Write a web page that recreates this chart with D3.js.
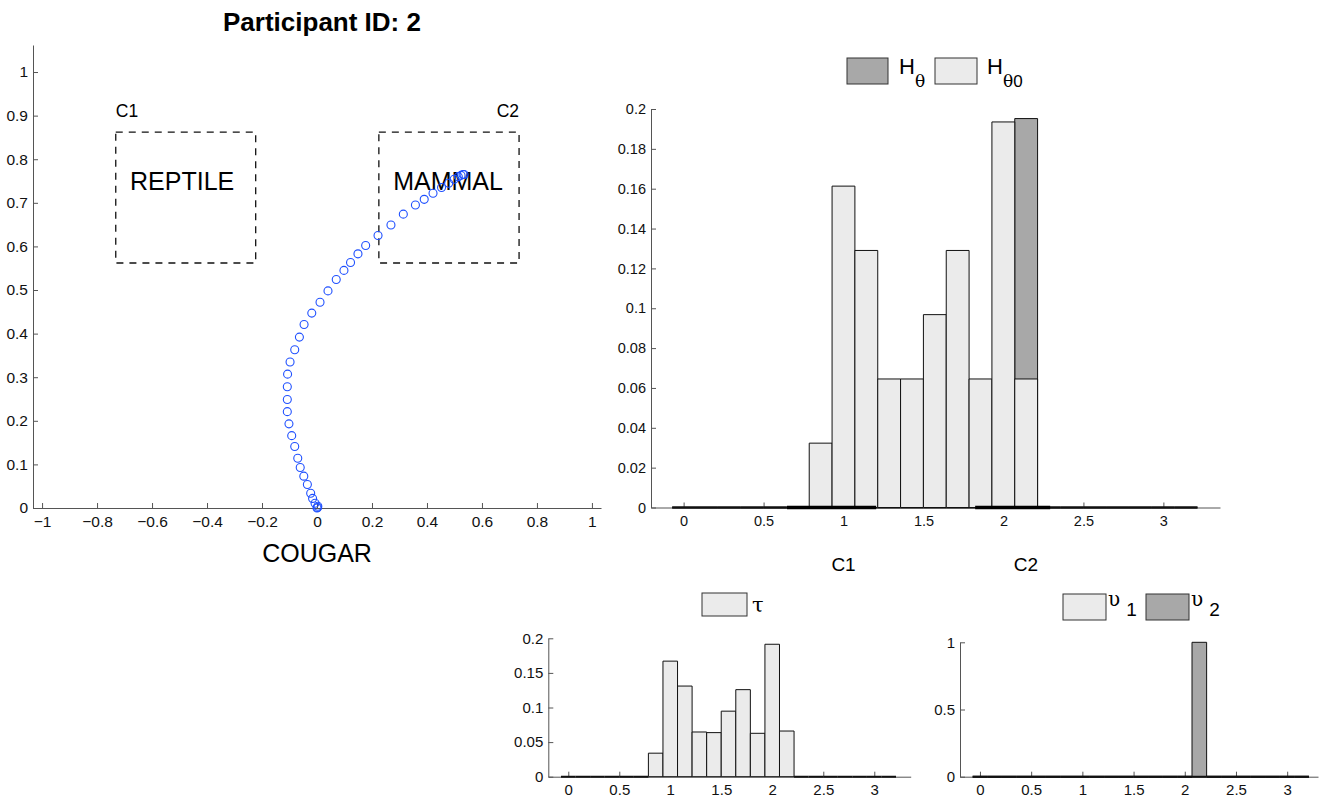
<!DOCTYPE html>
<html>
<head>
<meta charset="utf-8">
<script src="https://cdn.jsdelivr.net/npm/d3@7"></script>
<style>
  body { margin: 0; background: #fff; }
  svg { font-family: "Liberation Sans", Arial, Helvetica, sans-serif; }
</style>
</head>
<body>
<script>
// ---- data ----
// trajectory in the category space (x, y)
const trajX = [0, 0.002, 0.003, -0.007, -0.016, -0.023, -0.035, -0.048, -0.061, -0.070, -0.081, -0.092,
  -0.102, -0.108, -0.108, -0.108, -0.107, -0.098, -0.081, -0.064, -0.047, -0.019, 0.011, 0.040,
  0.070, 0.098, 0.122, 0.149, 0.177, 0.222, 0.269, 0.314, 0.358, 0.390, 0.422, 0.453, 0.479,
  0.499, 0.514, 0.524, 0.531, 0.535];
const trajY = [0, 0.001, 0.004, 0.011, 0.022, 0.034, 0.054, 0.073, 0.093, 0.114, 0.141, 0.166,
  0.193, 0.221, 0.249, 0.278, 0.307, 0.335, 0.363, 0.392, 0.421, 0.447, 0.472, 0.498,
  0.524, 0.545, 0.563, 0.583, 0.602, 0.625, 0.649, 0.674, 0.695, 0.708, 0.722, 0.735, 0.745,
  0.754, 0.760, 0.763, 0.765, 0.765];

// category regions
const regionNames = ['C1', 'C2'];
const regionLabels = ['REPTILE', 'MAMMAL'];
const regionX0 = [-0.732, 0.225];
const regionX1 = [-0.223, 0.735];
const regionY0 = [0.562, 0.562];
const regionY1 = [0.862, 0.862];
const stimulusLabel = 'COUGAR';

// angle histograms: 23 bins of width pi/22 centred on k*pi/22
const nBins = 23;
const binWidth = Math.PI / 22;
const hTheta0 = [0, 0, 0, 0, 0, 0, 0.0323, 0.1613, 0.1290, 0.0645, 0.0645, 0.0968, 0.1290, 0.0645,
  0.1935, 0.0645, 0, 0, 0, 0, 0, 0, 0];
const hTheta = [0, 0, 0, 0, 0, 0, 0, 0, 0, 0, 0, 0, 0, 0, 0, 0.1952, 0, 0, 0, 0, 0, 0, 0];
const tau = [0, 0, 0, 0, 0, 0, 0.034, 0.167, 0.131, 0.0646, 0.0637, 0.0947, 0.1258, 0.0627,
  0.1914, 0.066, 0, 0, 0, 0, 0, 0, 0];
const upsilon1 = [0, 0, 0, 0, 0, 0, 0, 0, 0, 0, 0, 0, 0, 0, 0, 0, 0, 0, 0, 0, 0, 0, 0];
const upsilon2 = [0, 0, 0, 0, 0, 0, 0, 0, 0, 0, 0, 0, 0, 0, 0, 1, 0, 0, 0, 0, 0, 0, 0];

// angular ranges of the two categories
const rangeC1 = [0.646, 1.204];
const rangeC2 = [1.823, 2.292];
const rangeLabelX = [1.0, 2.14];

// ticks
const leftXTicks = [-1, -0.8, -0.6, -0.4, -0.2, 0, 0.2, 0.4, 0.6, 0.8, 1];
const leftYTicks = [0, 0.1, 0.2, 0.3, 0.4, 0.5, 0.6, 0.7, 0.8, 0.9, 1];
const angleTicks = [0, 0.5, 1, 1.5, 2, 2.5, 3];
const histYTicks = [0, 0.02, 0.04, 0.06, 0.08, 0.1, 0.12, 0.14, 0.16, 0.18, 0.2];
const tauYTicks = [0, 0.05, 0.1, 0.15, 0.2];
const upsYTicks = [0, 0.5, 1];

const LIGHT = '#ebebeb';
const DARK = '#a8a8a8';
const AXIS = '#555';

const svg = d3.select('body').append('svg')
  .attr('width', 1325)
  .attr('height', 797);

const fmt = d3.format('~g');

function drawAxes(x, y, xticks, yticks, fs) {
  const gx = svg.append('g')
    .attr('transform', `translate(0,${y.range()[0]})`)
    .call(d3.axisBottom(x).tickValues(xticks).tickFormat(fmt)
      .tickSizeInner(-5).tickSizeOuter(0).tickPadding(8));
  const gy = svg.append('g')
    .attr('transform', `translate(${x.range()[0]},0)`)
    .call(d3.axisLeft(y).tickValues(yticks).tickFormat(fmt)
      .tickSizeInner(-5).tickSizeOuter(0).tickPadding(5));
  [gx, gy].forEach(g => {
    g.select('.domain').attr('stroke', AXIS);
    g.selectAll('.tick line').attr('stroke', AXIS);
    g.selectAll('.tick text').attr('fill', '#111')
      .style('font-size', fs + 'px')
      .style('font-family', '"Liberation Sans", Arial, sans-serif');
  });
}

// bar as an open-bottom outline path so zero bars show as a line on the baseline
function barPath(x, y, c, v) {
  const x0 = x(c - binWidth / 2), x1 = x(c + binWidth / 2);
  const y0 = y(0), y1 = y(v);
  return `M${x0},${y0}V${y1}H${x1}V${y0}Z`;
}

function drawBars(x, y, values, fill) {
  const centers = d3.range(nBins).map(k => k * binWidth);
  svg.append('g').selectAll('path')
    .data(values)
    .join('path')
    .attr('d', (v, i) => barPath(x, y, centers[i], v))
    .attr('fill', fill)
    .attr('stroke', '#111')
    .attr('stroke-width', v => v === 0 ? 2 : 1);
}

// ---- left panel: trajectory ----
const xL = d3.scaleLinear().domain([-1.033, 1.033]).range([33, 601]);
const yL = d3.scaleLinear().domain([0, 1.062]).range([508, 45]);

svg.append('text')
  .attr('x', 322).attr('y', 31)
  .attr('text-anchor', 'middle')
  .style('font-size', '26px').style('font-weight', 'bold')
  .text('Participant ID: 2');

drawAxes(xL, yL, leftXTicks, leftYTicks, 15.5);

regionNames.forEach((name, i) => {
  svg.append('rect')
    .attr('x', xL(regionX0[i])).attr('y', yL(regionY1[i]))
    .attr('width', xL(regionX1[i]) - xL(regionX0[i]))
    .attr('height', yL(regionY0[i]) - yL(regionY1[i]))
    .attr('fill', 'none').attr('stroke', '#111')
    .attr('stroke-width', 1.3).attr('stroke-dasharray', '7,6');
  svg.append('text')
    .attr('x', i === 0 ? xL(regionX0[i]) : xL(regionX1[i]))
    .attr('y', yL(regionY1[i]) - 15)
    .attr('text-anchor', i === 0 ? 'start' : 'end')
    .style('font-size', '17.5px')
    .text(name);
  svg.append('text')
    .attr('x', xL(regionX0[i] + 0.052))
    .attr('y', yL(0.729))
    .style('font-size', '25px')
    .text(regionLabels[i]);
});

svg.append('g').selectAll('circle')
  .data(trajX)
  .join('circle')
  .attr('cx', d => xL(d))
  .attr('cy', (d, i) => yL(trajY[i]))
  .attr('r', 4)
  .attr('fill', 'none')
  .attr('stroke', '#1f50ff')
  .attr('stroke-width', 1.1);

svg.append('text')
  .attr('x', xL(0)).attr('y', 562)
  .attr('text-anchor', 'middle')
  .style('font-size', '25px')
  .text(stimulusLabel);

// ---- top right: H_theta histograms ----
const xH = d3.scaleLinear().domain([-0.204, 3.354]).range([651, 1220]);
const yH = d3.scaleLinear().domain([0, 0.2]).range([507.5, 109]);
drawAxes(xH, yH, angleTicks, histYTicks, 14.5);
drawBars(xH, yH, hTheta, DARK);
drawBars(xH, yH, hTheta0, LIGHT);

[rangeC1, rangeC2].forEach((r, i) => {
  svg.append('line')
    .attr('x1', xH(r[0])).attr('x2', xH(r[1]))
    .attr('y1', yH(0)).attr('y2', yH(0))
    .attr('stroke', '#000').attr('stroke-width', 3.6);
  svg.append('text')
    .attr('x', xH(rangeLabelX[i])).attr('y', 571)
    .attr('text-anchor', 'middle')
    .style('font-size', '19px')
    .text(regionNames[i]);
});

// legend H
function legendBox(x, y, w, h, fill) {
  svg.append('rect').attr('x', x).attr('y', y).attr('width', w).attr('height', h)
    .attr('fill', fill).attr('stroke', '#333').attr('stroke-width', 1);
}
legendBox(847, 58, 41, 26, DARK);
legendBox(935, 58, 42, 26, LIGHT);
const lh1 = svg.append('text').attr('x', 899).attr('y', 74).style('font-size', '22px');
lh1.append('tspan').text('H');
lh1.append('tspan').attr('dy', 13).style('font-size', '17px')
  .style('font-family', '"DejaVu Serif", serif').text('θ');
const lh2 = svg.append('text').attr('x', 987).attr('y', 74).style('font-size', '22px');
lh2.append('tspan').text('H');
lh2.append('tspan').attr('dy', 13).style('font-size', '17px')
  .style('font-family', '"DejaVu Serif", serif').text('θ');
lh2.append('tspan').style('font-size', '17px').text('0');

// ---- bottom left: tau ----
const xT = d3.scaleLinear().domain([-0.196, 3.357]).range([548.3, 910.7]);
const yT = d3.scaleLinear().domain([0, 0.2]).range([776.7, 638.3]);
drawAxes(xT, yT, angleTicks, tauYTicks, 15);
drawBars(xT, yT, tau, LIGHT);
legendBox(702, 593, 45, 23, LIGHT);
svg.append('text').attr('x', 752).attr('y', 612)
  .style('font-size', '21px').style('font-family', '"DejaVu Serif", serif')
  .text('τ');

// ---- bottom right: upsilon ----
const xU = d3.scaleLinear().domain([-0.195, 3.301]).range([960, 1318]);
const yU = d3.scaleLinear().domain([0, 1]).range([776.7, 642.3]);
drawAxes(xU, yU, angleTicks, upsYTicks, 15);
drawBars(xU, yU, upsilon2, DARK);
drawBars(xU, yU, upsilon1, LIGHT);
legendBox(1063, 594, 43, 26, LIGHT);
legendBox(1146, 594, 43, 26, DARK);
[[1108, '1'], [1191, '2']].forEach(([lx, sub]) => {
  const t = svg.append('text').attr('x', lx).attr('y', 606);
  t.append('tspan').style('font-size', '20px')
    .style('font-family', '"DejaVu Serif", serif').text('υ');
  t.append('tspan').attr('dx', 6).attr('dy', 10).style('font-size', '19px').text(sub);
});
</script>
</body>
</html>
